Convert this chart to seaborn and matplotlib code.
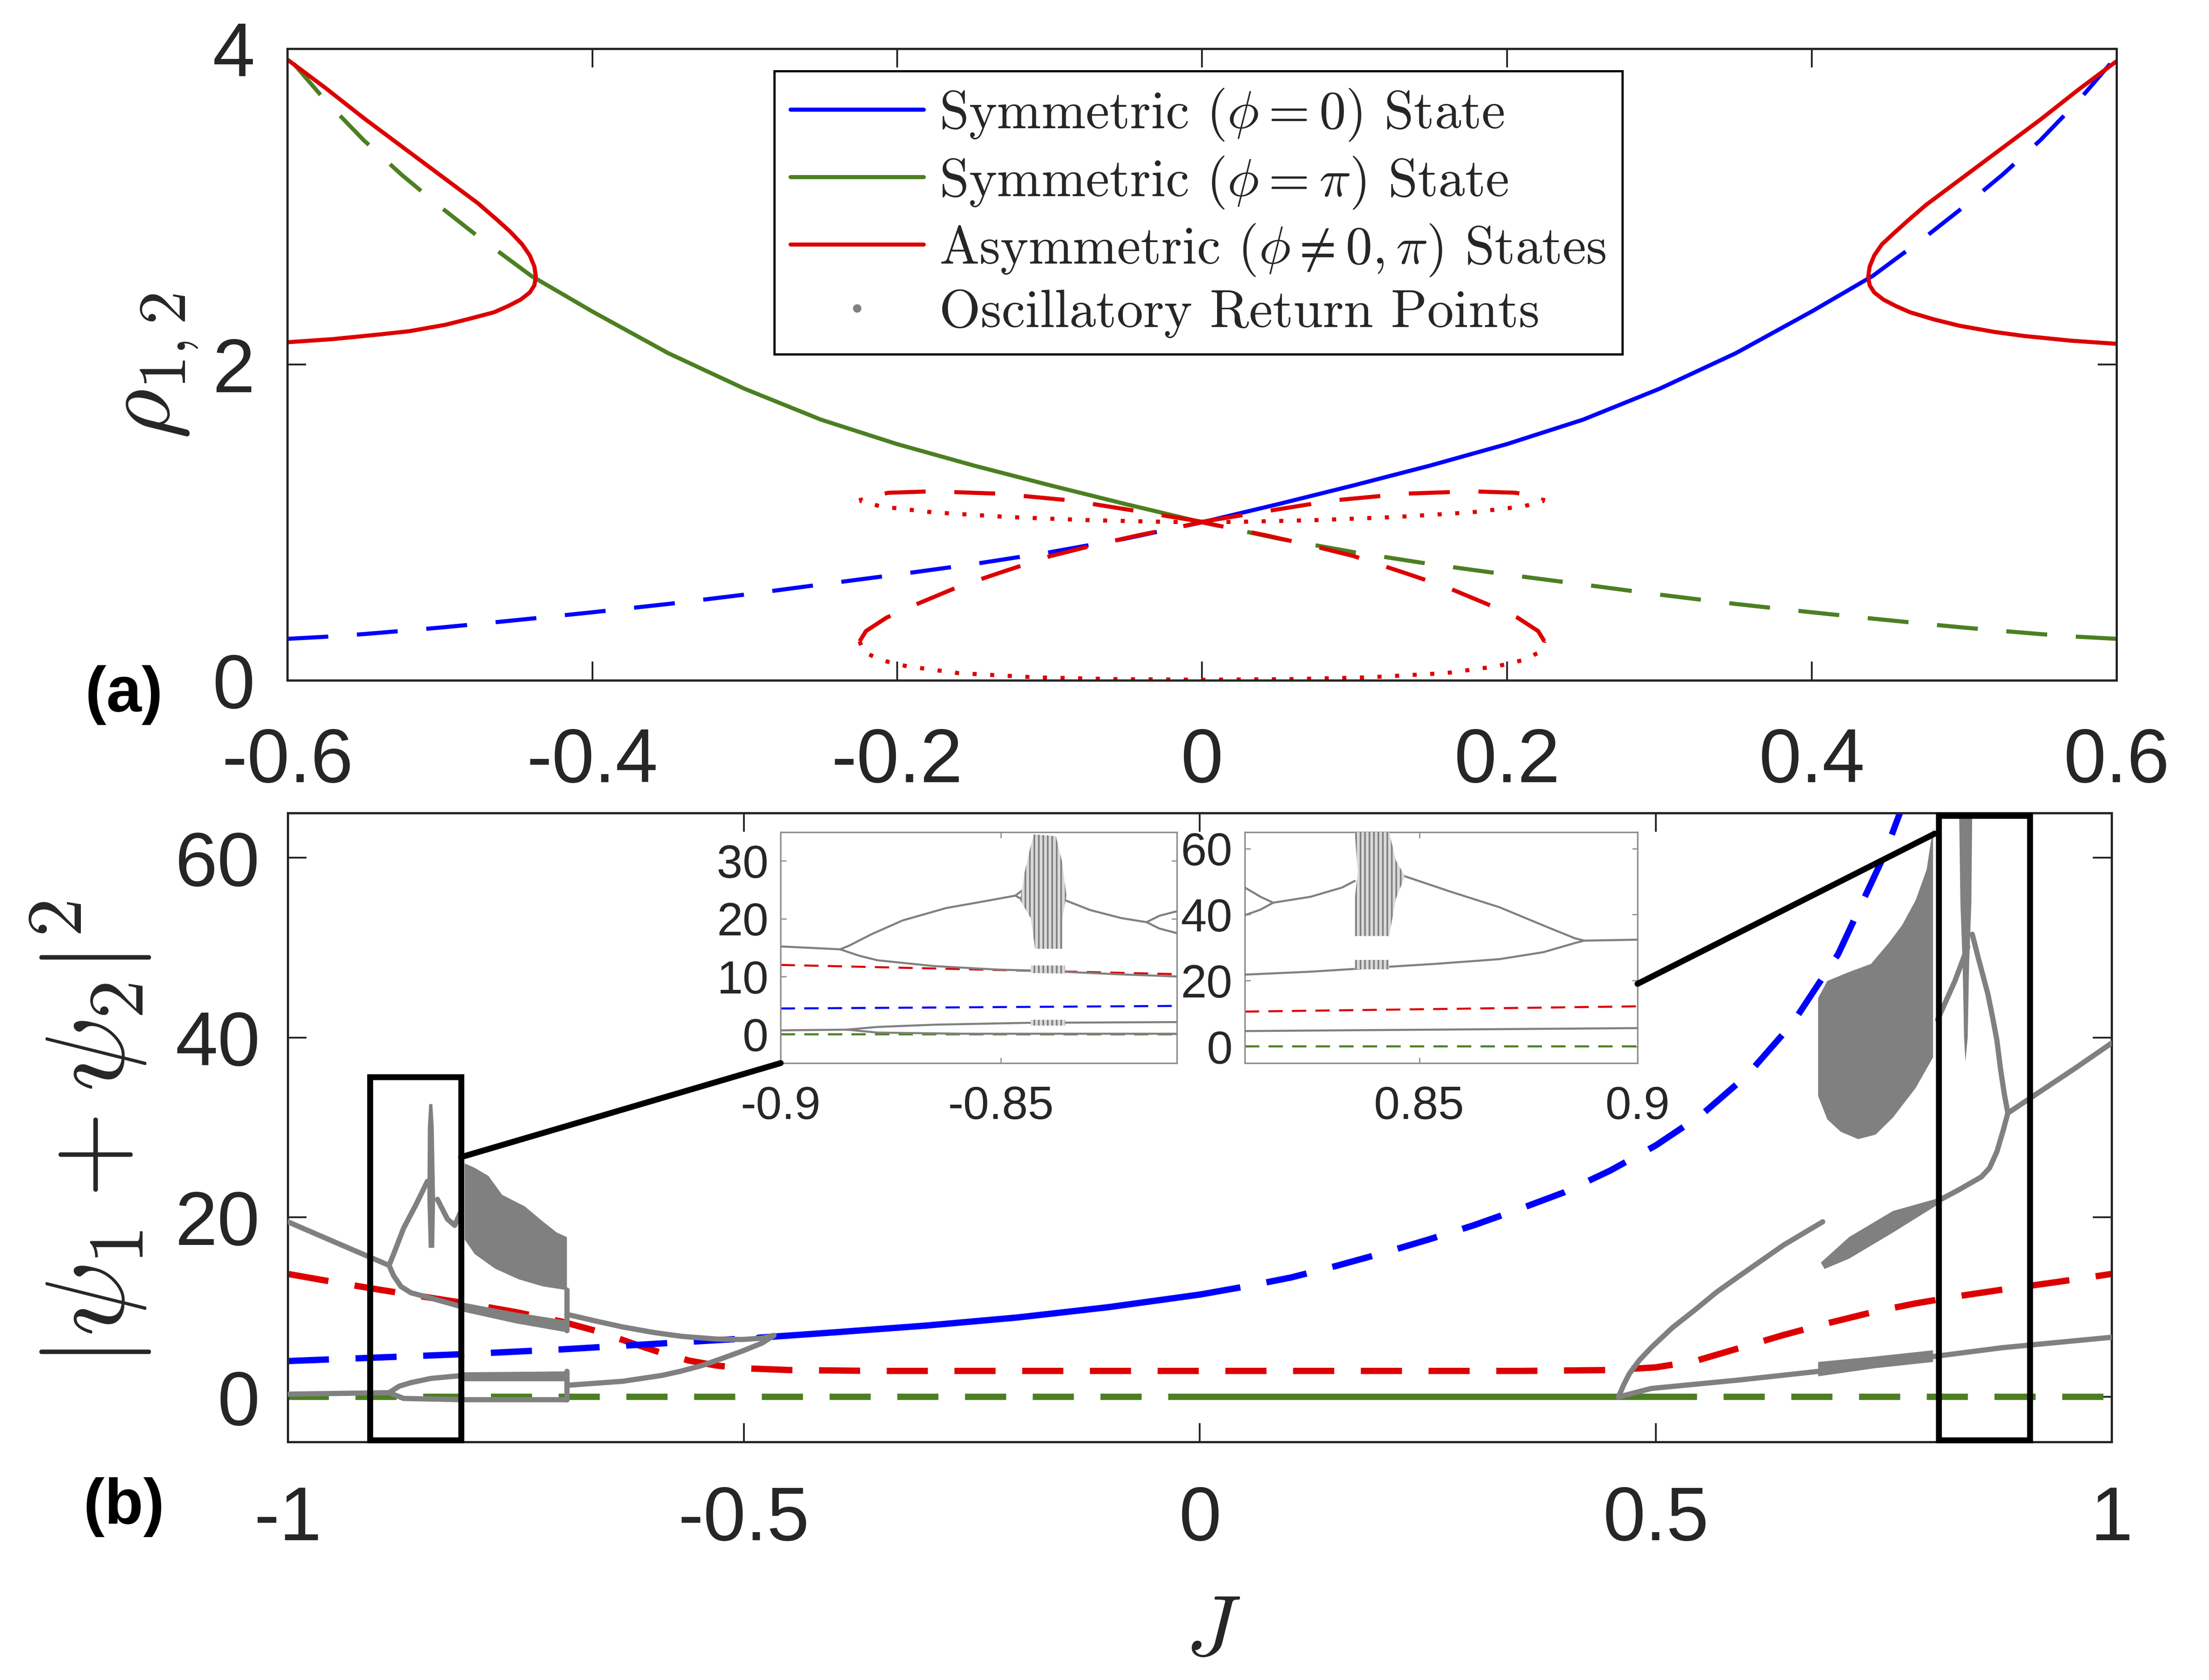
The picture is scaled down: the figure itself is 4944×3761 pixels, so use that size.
import matplotlib
matplotlib.use('Agg')
import matplotlib.pyplot as plt
from matplotlib.patches import Rectangle, ConnectionPatch
from matplotlib.lines import Line2D
import seaborn as sns

# ---------------- panel (a): rho_{1,2} against J ----------------
blue_a_solid_J = [0.0, 0.05, 0.1, 0.15, 0.2, 0.25, 0.3, 0.35, 0.4, 0.44]
blue_a_solid_rho = [1.0, 1.115, 1.235, 1.36, 1.495, 1.65, 1.845, 2.07, 2.335, 2.56]
blue_a_hi_J = [0.44, 0.475, 0.5, 0.525, 0.55, 0.575, 0.6]
blue_a_hi_rho = [2.56, 2.81, 3.0, 3.2, 3.42, 3.67, 3.95]
blue_a_lo_J = [-0.6, -0.575, -0.55, -0.525, -0.5, -0.475, -0.44, -0.4, -0.35, -0.3,
               -0.25, -0.2, -0.15, -0.1, -0.05, 0.0]
blue_a_lo_rho = [0.262, 0.275, 0.292, 0.312, 0.333, 0.356, 0.39, 0.43, 0.483, 0.542,
                 0.606, 0.669, 0.735, 0.81, 0.897, 1.0]

green_a_solid_J = [0.0, -0.05, -0.1, -0.15, -0.2, -0.25, -0.3, -0.35, -0.4, -0.44]
green_a_solid_rho = [1.0, 1.115, 1.235, 1.36, 1.495, 1.65, 1.845, 2.07, 2.335, 2.56]
green_a_hi_J = [-0.44, -0.475, -0.5, -0.525, -0.55, -0.575, -0.6]
green_a_hi_rho = [2.56, 2.81, 3.0, 3.2, 3.42, 3.67, 3.95]
green_a_lo_J = [0.6, 0.575, 0.55, 0.525, 0.5, 0.475, 0.44, 0.4, 0.35, 0.3,
                0.25, 0.2, 0.15, 0.1, 0.05, 0.0]
green_a_lo_rho = [0.262, 0.275, 0.292, 0.312, 0.333, 0.356, 0.39, 0.43, 0.483, 0.542,
                  0.606, 0.669, 0.735, 0.81, 0.897, 1.0]

red_a_right_J = [0.6, 0.575, 0.55, 0.525, 0.5, 0.475, 0.463, 0.4538, 0.446, 0.441, 0.438, 0.437,
                 0.438, 0.441, 0.447, 0.455, 0.4644, 0.48, 0.4966, 0.52, 0.539, 0.57, 0.6]
red_a_right_rho = [3.92, 3.74, 3.55, 3.37, 3.19, 3.01, 2.91, 2.83, 2.76, 2.69, 2.62, 2.555,
                   2.50, 2.455, 2.41, 2.37, 2.33, 2.285, 2.245, 2.205, 2.18, 2.15, 2.13]
red_a_left_J = [-0.6, -0.575, -0.55, -0.525, -0.5, -0.475, -0.463, -0.4538, -0.446, -0.441, -0.438, -0.437,
                -0.438, -0.441, -0.447, -0.455, -0.4644, -0.48, -0.4966, -0.52, -0.539, -0.57, -0.6]
red_a_left_rho = [3.93, 3.75, 3.56, 3.38, 3.20, 3.02, 2.92, 2.84, 2.76, 2.69, 2.62, 2.555,
                  2.50, 2.455, 2.41, 2.37, 2.33, 2.29, 2.25, 2.21, 2.19, 2.16, 2.14]

# small loops around J = 0
red_ul_dash_J = [0.0, -0.0421, -0.0859, -0.1331, -0.1768, -0.2055, -0.224]
red_ul_dash_rho = [1.003, 1.070, 1.138, 1.181, 1.196, 1.187, 1.155]
red_ul_dot_J = [-0.224, -0.2235, -0.2105, -0.1768, -0.1264, -0.076, -0.0253, 0.0]
red_ul_dot_rho = [1.155, 1.133, 1.10, 1.063, 1.033, 1.014, 1.003, 1.0]
red_ur_dash_J = [0.0, 0.0421, 0.0859, 0.1331, 0.1768, 0.2055, 0.224]
red_ur_dash_rho = [1.003, 1.070, 1.138, 1.181, 1.196, 1.187, 1.155]
red_ur_dot_J = [0.224, 0.2235, 0.2105, 0.1768, 0.1264, 0.076, 0.0253, 0.0]
red_ur_dot_rho = [1.155, 1.133, 1.10, 1.063, 1.033, 1.014, 1.003, 1.0]
red_lo_dash_J = [-0.2246, -0.2205, -0.207, -0.1868, -0.160, -0.1331, -0.0994, -0.0724, -0.0421, 0.0,
                 0.0421, 0.0724, 0.0994, 0.1331, 0.160, 0.1868, 0.207, 0.2205, 0.2246]
red_lo_dash_rho = [0.246, 0.311, 0.396, 0.483, 0.591, 0.679, 0.786, 0.851, 0.917, 1.0,
                   0.917, 0.851, 0.786, 0.679, 0.591, 0.483, 0.396, 0.311, 0.246]
red_lo_dot_J = [-0.2246, -0.2222, -0.2105, -0.1935, -0.160, -0.1094, -0.059, 0.0,
                0.059, 0.1094, 0.160, 0.1935, 0.2105, 0.2222, 0.2246]
red_lo_dot_rho = [0.246, 0.181, 0.127, 0.088, 0.045, 0.018, 0.007, 0.003,
                  0.007, 0.018, 0.045, 0.088, 0.127, 0.181, 0.246]

a_xticks = [-0.6, -0.4, -0.2, 0, 0.2, 0.4, 0.6]
a_xticklabels = ['-0.6', '-0.4', '-0.2', '0', '0.2', '0.4', '0.6']
a_yticks = [0, 2, 4]

# ---------------- panel (b): |psi1 + psi2|^2 against J ----------------
green_b_lo_J = [-1.0, 0.0]
green_b_mid_J = [0.0, 0.5]
green_b_hi_J = [0.5, 1.0]

blue_b_lo_J = [-1.0, -0.9, -0.8, -0.7, -0.6, -0.484]
blue_b_lo_y = [4.0, 4.4, 4.8, 5.3, 5.9, 6.6]
blue_b_mid_J = [-0.484, -0.4, -0.3, -0.2, -0.1, 0.0]
blue_b_mid_y = [6.6, 7.2, 7.95, 8.85, 10.0, 11.4]
blue_b_hi_J = [0.0, 0.05, 0.1, 0.15, 0.2, 0.25, 0.3, 0.35, 0.4, 0.45, 0.5, 0.55,
               0.6, 0.65, 0.7, 0.75, 0.775, 0.8]
blue_b_hi_y = [11.4, 12.3, 13.3, 14.6, 16.0, 17.5, 19.1, 20.9, 22.8, 25.2, 28.0, 31.4,
               35.8, 41.6, 49.3, 60.2, 67.0, 74.0]

red_b_J = [-1.0, -0.95, -0.9, -0.85, -0.8, -0.75, -0.7, -0.66, -0.62, -0.59, -0.56, -0.53,
           -0.5, -0.45, -0.35, 0.0, 0.35, 0.45, 0.5, 0.543, 0.59, 0.64, 0.688, 0.74,
           0.784, 0.83, 0.88, 0.94, 1.0]
red_b_y = [13.7, 12.8, 11.95, 11.15, 10.35, 9.45, 8.4, 7.3, 5.9, 4.9, 4.05, 3.5,
           3.2, 3.0, 2.9, 2.9, 2.9, 3.0, 3.3, 4.0, 5.4, 6.9, 8.2, 9.5,
           10.4, 11.2, 11.95, 12.8, 13.7]

# oscillatory return points, left group
gray_l_top_J = [-1.0, -0.943, -0.889]
gray_l_top_y = [19.5, 17.0, 14.65]
gray_l_up_J = [-0.889, -0.884, -0.873, -0.86, -0.847]
gray_l_up_y = [14.65, 15.9, 18.8, 21.3, 24.0]
gray_l_down_J = [-0.889, -0.884, -0.876, -0.865, -0.843, -0.808, -0.764, -0.694]
gray_l_down_y = [14.65, 13.5, 12.3, 11.6, 11.0, 10.0, 9.1, 7.8]
gray_l_band_J = [-0.808, -0.75, -0.694, -0.694, -0.75, -0.808]
gray_l_band_y = [10.5, 9.4, 8.5, 7.2, 8.2, 9.5]
gray_l_peak_J = [-0.836, -0.825, -0.817, -0.81]
gray_l_peak_y = [22.0, 19.8, 19.1, 20.7]
gray_l_spike_J = [-0.8455, -0.847, -0.8465, -0.845, -0.8415, -0.840, -0.8385, -0.8395]
gray_l_spike_y = [16.6, 22.0, 30.0, 32.6, 32.6, 30.0, 22.0, 16.6]
gray_l_cloud_J = [-0.806, -0.795, -0.78, -0.765, -0.74, -0.72, -0.705, -0.694,
                  -0.694, -0.72, -0.747, -0.773, -0.795, -0.806]
gray_l_cloud_y = [26.0, 25.5, 24.6, 22.5, 21.2, 19.5, 18.3, 17.8,
                  11.9, 12.3, 13.1, 14.3, 15.9, 17.5]
gray_l_edge_J = [-0.694, -0.694]
gray_l_edge_y = [11.9, 7.4]
gray_l_mid_J = [-0.694, -0.66, -0.633, -0.6, -0.568, -0.53, -0.502, -0.48, -0.467]
gray_l_mid_y = [9.2, 8.4, 7.8, 7.2, 6.75, 6.45, 6.4, 6.55, 6.85]
gray_l_cusp_J = [-0.467, -0.48, -0.502, -0.525, -0.546, -0.57, -0.59, -0.633, -0.694]
gray_l_cusp_y = [6.85, 6.0, 5.1, 4.25, 3.5, 2.85, 2.4, 1.75, 1.3]
gray_l_base_J = [-1.0, -0.889]
gray_l_base_y = [0.32, 0.48]
gray_l_base_up_J = [-0.889, -0.878, -0.865, -0.843, -0.808, -0.694]
gray_l_base_up_y = [0.48, 1.2, 1.6, 2.07, 2.4, 2.55]
gray_l_base_lo_J = [-0.889, -0.873, -0.808, -0.694]
gray_l_base_lo_y = [0.48, -0.16, -0.3, -0.3]
gray_l_base_band_J = [-0.808, -0.694, -0.694, -0.808]
gray_l_base_band_y = [2.75, 2.85, 1.75, 1.75]
gray_l_base_edge_J = [-0.694, -0.694]
gray_l_base_edge_y = [2.85, -0.3]

# oscillatory return points, right group
gray_r_up_J = [0.459, 0.465, 0.471, 0.482, 0.495, 0.518, 0.543, 0.567, 0.592, 0.64, 0.683]
gray_r_up_y = [0.0, 1.4, 2.6, 4.1, 5.5, 7.7, 9.7, 11.7, 13.5, 16.9, 19.5]
gray_r_lo_J = [0.459, 0.495, 0.592, 0.678, 0.804, 0.881, 1.0]
gray_r_lo_y = [0.0, 0.95, 1.9, 2.85, 4.5, 5.5, 6.65]
gray_r_band_J = [0.678, 0.74, 0.804, 0.804, 0.74, 0.678]
gray_r_band_y = [3.9, 4.5, 5.2, 3.9, 3.2, 2.3]
gray_r_lens_J = [0.681, 0.712, 0.76, 0.809, 0.809, 0.76, 0.712, 0.685]
gray_r_lens_y = [14.96, 17.8, 20.7, 22.1, 21.4, 18.3, 15.4, 14.25]
gray_r_after_J = [0.809, 0.833, 0.857, 0.866, 0.874, 0.881, 0.886, 0.92, 0.96, 1.0]
gray_r_after_y = [21.8, 23.1, 24.5, 25.5, 27.3, 29.7, 31.6, 33.9, 36.6, 39.4]
gray_r_branch_J = [0.886, 0.882, 0.878, 0.874, 0.869, 0.864, 0.854, 0.847]
gray_r_branch_y = [31.6, 33.8, 36.5, 39.7, 42.4, 44.9, 48.7, 51.5]
gray_r_side_J = [0.809, 0.828, 0.842]
gray_r_side_y = [42.0, 46.3, 50.1]
gray_r_spike_J = [0.8325, 0.847, 0.846, 0.8435, 0.842, 0.8395, 0.838, 0.8365, 0.834]
gray_r_spike_y = [66.0, 66.0, 55.0, 48.0, 40.0, 37.3, 40.0, 48.0, 55.0]
gray_r_cloud_J = [0.678, 0.678, 0.688, 0.703, 0.722, 0.741, 0.76, 0.785, 0.804, 0.804,
                  0.797, 0.785, 0.77, 0.756, 0.736, 0.712, 0.688]
gray_r_cloud_y = [44.4, 33.5, 30.9, 29.5, 28.7, 29.2, 31.1, 34.4, 37.8, 63.4,
                  58.7, 55.3, 52.5, 50.6, 48.2, 47.3, 46.3]

b_xticks = [-1, -0.5, 0, 0.5, 1]
b_xticklabels = ['-1', '-0.5', '0', '0.5', '1']
b_yticks = [0, 20, 40, 60]

# ---------------- inset 1 (J from -0.9 to -0.81) ----------------
in1_red_J = [-0.9, -0.855, -0.81]
in1_red_y = [12.0, 11.2, 10.4]
in1_blue_J = [-0.9, -0.81]
in1_blue_y = [4.45, 4.9]
in1_green_J = [-0.9, -0.81]
in1_green_y = [0.05, 0.05]
in1_top_J = [-0.9, -0.8865]
in1_top_y = [15.2, 14.7]
in1_up_J = [-0.8865, -0.8844, -0.8794, -0.8723, -0.8624, -0.8524, -0.8467, -0.8439]
in1_up_y = [14.7, 15.35, 17.3, 19.7, 21.85, 23.2, 24.0, 25.6]
in1_up2_J = [-0.8467, -0.8439]
in1_up2_y = [24.0, 22.8]
in1_right_J = [-0.8354, -0.8297, -0.8226, -0.8169, -0.814, -0.81]
in1_right_y = [23.2, 21.5, 20.1, 19.4, 20.5, 21.3]
in1_right2_J = [-0.8169, -0.814, -0.81]
in1_right2_y = [19.4, 18.3, 17.5]
in1_down_J = [-0.8865, -0.8822, -0.878, -0.8652, -0.851, -0.8396, -0.824, -0.81]
in1_down_y = [14.7, 13.6, 12.8, 11.8, 11.2, 10.95, 10.4, 10.0]
in1_base_J = [-0.9, -0.885]
in1_base_y = [0.67, 0.79]
in1_base_up_J = [-0.885, -0.878, -0.865, -0.844, -0.81]
in1_base_up_y = [0.79, 1.26, 1.65, 1.97, 2.1]
in1_base_lo_J = [-0.885, -0.878, -0.858, -0.81]
in1_base_lo_y = [0.79, 0.28, 0.08, 0.08]
in1_chaos_J = [-0.8425, -0.8375, -0.8361, -0.8351, -0.836, -0.836, -0.8422, -0.8432, -0.8456, -0.8446, -0.8432]
in1_chaos_y = [34.6, 34.3, 29.9, 24.0, 20.1, 14.8, 14.8, 20.1, 23.2, 28.0, 32.7]
in1_noise_J = [-0.8432, -0.8354, -0.8354, -0.8432]
in1_noise_y = [11.9, 11.9, 10.5, 10.6]
in1_noise2_J = [-0.8432, -0.8354, -0.8354, -0.8432]
in1_noise2_y = [2.5, 2.5, 1.5, 1.5]
in1_xticks = [-0.9, -0.85]
in1_xticklabels = ['-0.9', '-0.85']
in1_yticks = [0, 10, 20, 30]

# ---------------- inset 2 (J from 0.81 to 0.9) ----------------
in2_red_J = [0.81, 0.9]
in2_red_y = [10.6, 12.2]
in2_green_J = [0.81, 0.9]
in2_green_y = [0.1, 0.1]
in2_lo_J = [0.81, 0.8395, 0.9]
in2_lo_y = [4.7, 5.0, 5.6]
in2_mid_J = [0.81, 0.8251, 0.8395, 0.854, 0.8684, 0.8784, 0.8857, 0.8878, 0.9]
in2_mid_y = [21.8, 22.7, 23.9, 25.1, 26.5, 28.6, 31.4, 32.1, 32.4]
in2_up_J = [0.8878, 0.8857, 0.8799, 0.8684, 0.8568, 0.8467, 0.8446]
in2_up_y = [32.1, 32.8, 35.9, 42.2, 47.1, 51.6, 53.0]
in2_loop_J = [0.81, 0.8136, 0.8165, 0.8136, 0.81]
in2_loop_y = [48.2, 45.4, 43.6, 41.5, 39.8]
in2_rise_J = [0.8165, 0.8251, 0.8323, 0.8352]
in2_rise_y = [43.6, 45.4, 48.2, 50.2]
in2_chaos_J = [0.8352, 0.8431, 0.8446, 0.8467, 0.8446, 0.8431, 0.8352, 0.8352, 0.8359]
in2_chaos_y = [65.0, 65.0, 56.5, 51.6, 44.7, 33.5, 33.5, 44.7, 53.0]
in2_noise_J = [0.8352, 0.8431, 0.8431, 0.8352]
in2_noise_y = [26.2, 26.2, 23.4, 23.4]
in2_xticks = [0.85, 0.9]
in2_xticklabels = ['0.85', '0.9']
in2_yticks = [0, 20, 40, 60]

legend_labels = [r'Symmetric ($\phi=0$) State',
                 r'Symmetric ($\phi=\pi$) State',
                 r'Asymmetric ($\phi\neq0,\pi$) States',
                 'Oscillatory Return Points']

BLUE = '#0000FF'
GREEN = '#4C7F22'
RED = '#DD0000'
GRAY = '#808080'
INK = '#262626'

sns.set_theme(style='white')
plt.rcParams['font.family'] = ['Liberation Sans', 'DejaVu Sans']
plt.rcParams['mathtext.fontset'] = 'cm'
plt.rcParams['axes.unicode_minus'] = False
plt.rcParams['hatch.linewidth'] = 0.9

DASH_A = (0, (10, 7))
DOT_A = (0, (1, 3.3))
DASH_B = (0, (6.5, 4.2))
DASH_IN = (0, (7, 4.5))


def draw(ax, x, y, color, style='-', lw=2.2, z=2):
    sns.lineplot(x=x, y=y, ax=ax, color=color, linestyle=style, linewidth=lw,
                 sort=False, estimator=None, zorder=z)


def patch(ax, x, y, z=3):
    ax.fill(x, y, color=GRAY, lw=0, zorder=z)


def speckle(ax, x, y, z=3):
    # sparse return points in the insets: light fill with vertical hatching
    ax.fill(x, y, facecolor='#d9d9d9', edgecolor=GRAY, hatch='|||||', lw=0, zorder=z)


def frame(ax, lw, color, ticklen, size, xpad, ypad):
    for s in ax.spines.values():
        s.set_visible(True)
        s.set_linewidth(lw)
        s.set_color(color)
    ax.tick_params(direction='in', length=ticklen, width=lw * 0.8, top=True, right=True,
                   labelsize=size, colors=INK, bottom=True, left=True)
    ax.tick_params(axis='both', which='both', color=color)
    ax.tick_params(axis='x', pad=xpad)
    ax.tick_params(axis='y', pad=ypad)
    ax.set_xlabel('')
    ax.set_ylabel('')


fig = plt.figure(figsize=(16.48, 12.537), dpi=300)
ax1 = fig.add_axes([0.1301, 0.5951, 0.8281, 0.3760])
ax2 = fig.add_axes([0.1303, 0.1417, 0.8257, 0.3744])

# panel (a)
draw(ax1, blue_a_solid_J, blue_a_solid_rho, BLUE)
draw(ax1, blue_a_hi_J, blue_a_hi_rho, BLUE, DASH_A)
draw(ax1, blue_a_lo_J, blue_a_lo_rho, BLUE, DASH_A)
draw(ax1, green_a_solid_J, green_a_solid_rho, GREEN)
draw(ax1, green_a_hi_J, green_a_hi_rho, GREEN, DASH_A)
draw(ax1, green_a_lo_J, green_a_lo_rho, GREEN, DASH_A)
draw(ax1, red_a_right_J, red_a_right_rho, RED)
draw(ax1, red_a_left_J, red_a_left_rho, RED)
draw(ax1, red_ul_dash_J, red_ul_dash_rho, RED, DASH_A)
draw(ax1, red_ur_dash_J, red_ur_dash_rho, RED, DASH_A)
draw(ax1, red_lo_dash_J, red_lo_dash_rho, RED, DASH_A)
draw(ax1, red_ul_dot_J, red_ul_dot_rho, RED, DOT_A)
draw(ax1, red_ur_dot_J, red_ur_dot_rho, RED, DOT_A)
draw(ax1, red_lo_dot_J, red_lo_dot_rho, RED, DOT_A)

ax1.set_xlim(-0.6, 0.6)
ax1.set_ylim(0, 4)
ax1.set_xticks(a_xticks, a_xticklabels)
ax1.set_yticks(a_yticks)
frame(ax1, 1.2, INK, 10, 41, 25, 17.5)

handles = [Line2D([], [], color=BLUE, lw=2.2),
           Line2D([], [], color=GREEN, lw=2.2),
           Line2D([], [], color=RED, lw=2.2),
           Line2D([], [], color=GRAY, marker='o', ms=3.5, lw=0)]
leg = ax1.legend(handles, legend_labels, loc='upper left', bbox_to_anchor=(0.2662, 0.9646),
                 prop={'family': 'cmr10', 'size': 28.6}, frameon=True, fancybox=False,
                 edgecolor='black', framealpha=1, borderpad=0.3, handlelength=2.5,
                 handletextpad=0.3, labelspacing=0.22, borderaxespad=0)
leg.get_frame().set_linewidth(1.2)

# panel (b)
draw(ax2, green_b_lo_J, [0, 0], GREEN, DASH_B, 3.4)
draw(ax2, green_b_mid_J, [0, 0], GREEN, '-', 3.4)
draw(ax2, green_b_hi_J, [0, 0], GREEN, DASH_B, 3.4)
draw(ax2, red_b_J, red_b_y, RED, DASH_B, 3.4)
draw(ax2, blue_b_lo_J, blue_b_lo_y, BLUE, DASH_B, 3.4)
draw(ax2, blue_b_mid_J, blue_b_mid_y, BLUE, '-', 3.4)
draw(ax2, blue_b_hi_J, blue_b_hi_y, BLUE, DASH_B, 3.4)

for xs, ys in [(gray_l_top_J, gray_l_top_y), (gray_l_up_J, gray_l_up_y),
               (gray_l_down_J, gray_l_down_y), (gray_l_peak_J, gray_l_peak_y),
               (gray_l_edge_J, gray_l_edge_y), (gray_l_mid_J, gray_l_mid_y),
               (gray_l_cusp_J, gray_l_cusp_y), (gray_l_base_J, gray_l_base_y),
               (gray_l_base_up_J, gray_l_base_up_y), (gray_l_base_lo_J, gray_l_base_lo_y),
               (gray_l_base_edge_J, gray_l_base_edge_y),
               (gray_r_up_J, gray_r_up_y), (gray_r_lo_J, gray_r_lo_y),
               (gray_r_after_J, gray_r_after_y), (gray_r_branch_J, gray_r_branch_y),
               (gray_r_side_J, gray_r_side_y)]:
    draw(ax2, xs, ys, GRAY, '-', 2.8, 3)
for xs, ys in [(gray_l_band_J, gray_l_band_y), (gray_l_spike_J, gray_l_spike_y),
               (gray_l_cloud_J, gray_l_cloud_y), (gray_l_base_band_J, gray_l_base_band_y),
               (gray_r_band_J, gray_r_band_y), (gray_r_lens_J, gray_r_lens_y),
               (gray_r_spike_J, gray_r_spike_y), (gray_r_cloud_J, gray_r_cloud_y)]:
    patch(ax2, xs, ys)

ax2.set_xlim(-1, 1)
ax2.set_ylim(-5, 65)
ax2.set_xticks(b_xticks, b_xticklabels)
ax2.set_yticks(b_yticks)
frame(ax2, 1.2, INK, 10, 41, 23, 15)

# zoom boxes
ax2.add_patch(Rectangle((-0.91, -4.8), 0.10, 40.4, fill=False, ec='black', lw=3.2,
                        zorder=6, clip_on=False))
ax2.add_patch(Rectangle((0.81, -4.8), 0.10, 69.5, fill=False, ec='black', lw=3.2,
                        zorder=6, clip_on=False))

# insets
ain1 = fig.add_axes([0.3534, 0.3672, 0.1794, 0.1375], facecolor='white', zorder=5)
draw(ain1, in1_green_J, in1_green_y, GREEN, DASH_IN, 1.1)
draw(ain1, in1_blue_J, in1_blue_y, BLUE, DASH_IN, 1.1)
draw(ain1, in1_red_J, in1_red_y, RED, DASH_IN, 1.1)
for xs, ys in [(in1_top_J, in1_top_y), (in1_up_J, in1_up_y), (in1_up2_J, in1_up2_y),
               (in1_right_J, in1_right_y), (in1_right2_J, in1_right2_y),
               (in1_down_J, in1_down_y), (in1_base_J, in1_base_y),
               (in1_base_up_J, in1_base_up_y), (in1_base_lo_J, in1_base_lo_y)]:
    draw(ain1, xs, ys, GRAY, '-', 1.1, 3)
speckle(ain1, in1_chaos_J, in1_chaos_y)
speckle(ain1, in1_noise_J, in1_noise_y)
speckle(ain1, in1_noise2_J, in1_noise2_y)
ain1.set_xlim(-0.9, -0.81)
ain1.set_ylim(-5, 35)
ain1.set_xticks(in1_xticks, in1_xticklabels)
ain1.set_yticks(in1_yticks)
frame(ain1, 0.8, '#8c8c8c', 3, 25, 12, 6.5)

ain2 = fig.add_axes([0.5635, 0.3672, 0.1778, 0.1375], facecolor='white', zorder=5)
draw(ain2, in2_green_J, in2_green_y, GREEN, DASH_IN, 1.1)
draw(ain2, in2_red_J, in2_red_y, RED, DASH_IN, 1.1)
for xs, ys in [(in2_lo_J, in2_lo_y), (in2_mid_J, in2_mid_y), (in2_up_J, in2_up_y),
               (in2_loop_J, in2_loop_y), (in2_rise_J, in2_rise_y)]:
    draw(ain2, xs, ys, GRAY, '-', 1.1, 3)
speckle(ain2, in2_chaos_J, in2_chaos_y)
speckle(ain2, in2_noise_J, in2_noise_y)
ain2.set_xlim(0.81, 0.9)
ain2.set_ylim(-5, 65)
ain2.set_xticks(in2_xticks, in2_xticklabels)
ain2.set_yticks(in2_yticks)
frame(ain2, 0.8, '#8c8c8c', 3, 25, 12, 6.5)

# connector lines from the boxes to the insets
con1 = ConnectionPatch(xyA=(-0.81, 26.7), coordsA=ax2.transData,
                       xyB=(0, 0), coordsB=ain1.transAxes, color='black', lw=3.2, zorder=7)
con2 = ConnectionPatch(xyA=(0.806, 62.7), coordsA=ax2.transData,
                       xyB=(1, 0.343), coordsB=ain2.transAxes, color='black', lw=3.2, zorder=7)
fig.add_artist(con1)
fig.add_artist(con2)

# labels
fig.text(0.0700, 0.782, r'$\rho_{1,2}$', rotation=90, fontsize=52, ha='center', va='center', color=INK)
fig.text(0.0410, 0.325, r'$|\psi_1+\psi_2|^2$', rotation=90, fontsize=60, ha='center', va='center', color=INK)
fig.text(0.549, 0.0277, r'$J$', fontsize=46, ha='center', va='center', color=INK)
fig.text(0.0562, 0.5863, '(a)', fontsize=34, fontweight='bold', ha='center', va='center', color='black')
fig.text(0.0562, 0.103, '(b)', fontsize=34, fontweight='bold', ha='center', va='center', color='black')

fig.savefig('out.png', dpi=300)
